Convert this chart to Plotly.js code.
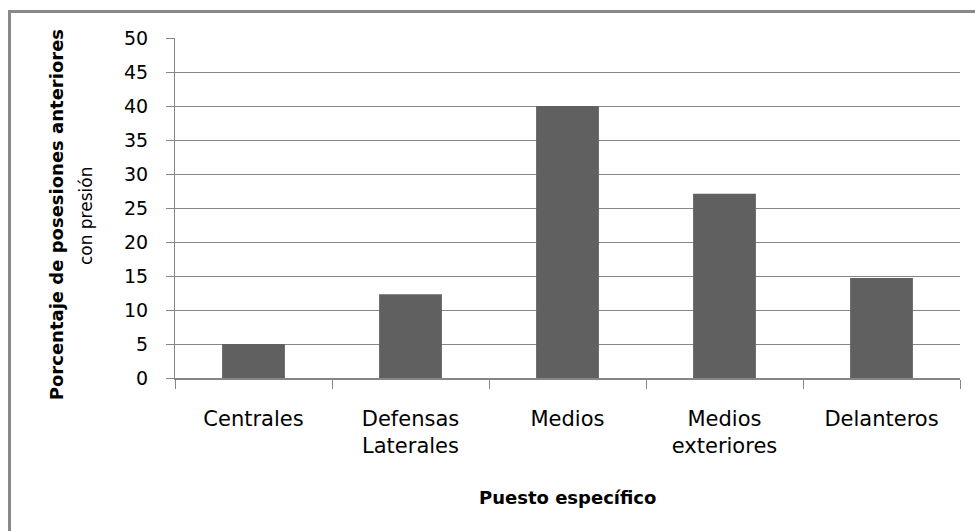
<!DOCTYPE html>
<html>
<head>
<meta charset="utf-8">
<script src="https://cdn.plot.ly/plotly-3.0.1.min.js"></script>
<style>
  html, body { margin: 0; padding: 0; background: #ffffff; }
  #chart { width: 975px; height: 531px; }
</style>
</head>
<body>
<div id="chart"></div>
<script>
// Porcentaje de posesiones anteriores con presión, por puesto específico
const categories = ['Centrales', 'Defensas<br>Laterales', 'Medios', 'Medios<br>exteriores', 'Delanteros'];
const values = [5, 12.3, 40, 27.1, 14.7];
const yTicks = [0, 5, 10, 15, 20, 25, 30, 35, 40, 45, 50];

const FONT = '"DejaVu Sans", "Liberation Sans", sans-serif';
const GRID = '#868686';
const INK = '#000000';

const trace = {
  type: 'bar',
  x: categories,
  y: values,
  marker: { color: '#606060', line: { width: 0 } },
  hoverinfo: 'x+y'
};

const layout = {
  width: 975,
  height: 531,
  margin: { l: 175, r: 15, t: 38, b: 153 },
  paper_bgcolor: '#ffffff',
  plot_bgcolor: '#ffffff',
  showlegend: false,
  bargap: 0.6,
  font: { family: FONT, size: 21, color: INK },
  xaxis: {
    type: 'category',
    tickson: 'boundaries',
    ticks: 'outside',
    ticklen: 9,
    tickwidth: 1,
    tickcolor: GRID,
    showline: true,
    linecolor: GRID,
    linewidth: 1.5,
    showgrid: false,
    ticklabelstandoff: 21,
    tickfont: { family: FONT, size: 21, color: INK }
  },
  yaxis: {
    range: [0, 50],
    tickvals: yTicks,
    ticktext: yTicks.map(String),
    ticks: 'outside',
    ticklen: 8,
    tickwidth: 1,
    tickcolor: GRID,
    showline: true,
    linecolor: GRID,
    linewidth: 1,
    showgrid: true,
    gridcolor: GRID,
    gridwidth: 1,
    zeroline: false,
    ticklabelstandoff: 14,
    tickfont: { family: FONT, size: 19, color: INK }
  },
  shapes: [
    // chart frame (top and left edges fall inside the view)
    {
      type: 'rect', xref: 'paper', yref: 'paper',
      x0: -0.2108, x1: 1.2, y0: -0.8, y1: 1.078,
      line: { color: '#898989', width: 3 },
      fillcolor: 'rgba(0,0,0,0)', layer: 'below'
    }
  ],
  annotations: [
    {
      text: '<b>Porcentaje de posesiones anteriores</b>',
      xref: 'paper', yref: 'paper', x: -0.1515, y: 0.479,
      xanchor: 'center', yanchor: 'middle', textangle: -90, showarrow: false,
      font: { family: FONT, size: 18, color: INK }
    },
    {
      text: 'con presión',
      xref: 'paper', yref: 'paper', x: -0.1134, y: 0.479,
      xanchor: 'center', yanchor: 'middle', textangle: -90, showarrow: false,
      font: { family: FONT, size: 17, color: INK }
    },
    {
      text: '<b>Puesto específico</b>',
      xref: 'paper', yref: 'paper', x: 0.5, y: -0.35,
      xanchor: 'center', yanchor: 'middle', showarrow: false,
      font: { family: FONT, size: 18, color: INK }
    }
  ]
};

Plotly.newPlot('chart', [trace], layout, { displayModeBar: false, staticPlot: true });
</script>
</body>
</html>
